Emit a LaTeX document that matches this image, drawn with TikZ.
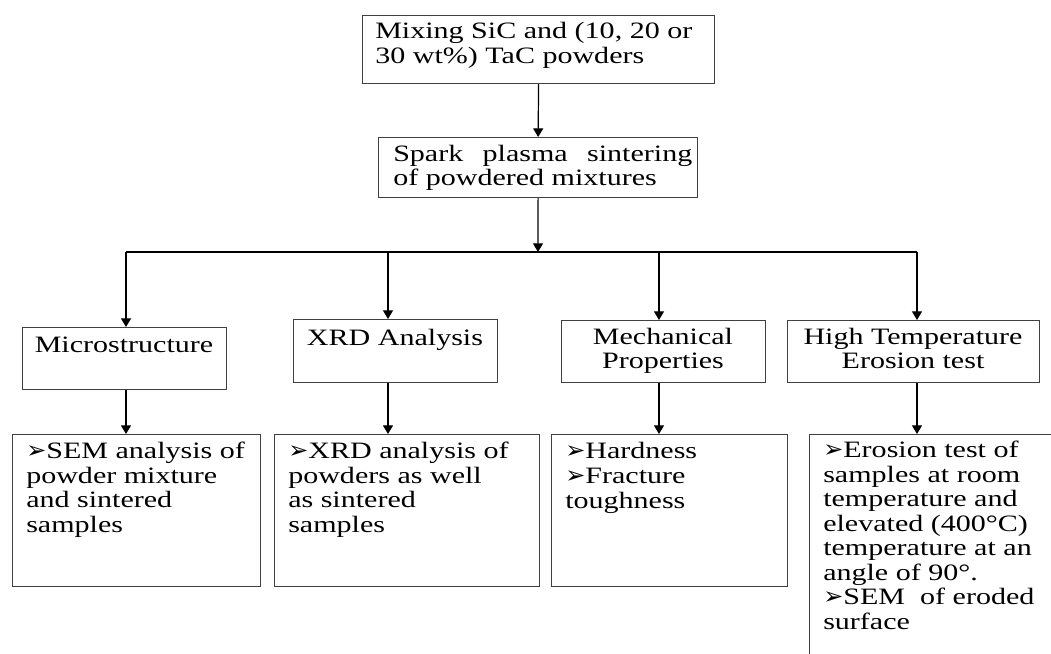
\documentclass[tikz,border=0pt]{standalone}
\usepackage{fontspec}
\setmainfont{Liberation Serif}[FakeStretch=1.28]
\newfontfamily\symf{DejaVu Sans}
\usetikzlibrary{arrows.meta}
\newcommand{\bul}{{\symf\fontsize{18}{15}\selectfont ➢}}
\newcommand{\bx}[5]{\node[box,anchor=north west,minimum width=#4*0.75pt,minimum height=#5*0.75pt] (#1) at (#2,#3) {};}
\tikzset{
  box/.style={draw=black!75,line width=0.9pt,inner sep=0pt,fill=none},
  arr/.style={draw=black,line width=0.9pt,-{Triangle[width=7.5pt,length=6.5pt]}},
  bus/.style={draw=black,line width=0.9pt},
  txt/.style={inner sep=0pt,font=\fontsize{17.6}{18.6}\selectfont,align=left},
  ctxt/.style={inner sep=0pt,font=\fontsize{17.6}{17.6}\selectfont,align=center},
  btxt/.style={inner sep=0pt,font=\fontsize{17.6}{18.4}\selectfont,align=left}
}
\begin{document}
\begin{tikzpicture}[x=0.75pt,y=-0.75pt]
\path[use as bounding box,clip] (0,0) rectangle (1051,654);
\fill[white] (0,0) rectangle (1051,654);
% boxes
\bx{t1}{362}{15}{352}{68}
\bx{t2}{378}{137}{319}{60}
\bx{m1}{22}{327}{204}{62}
\bx{m2}{293}{319}{204}{63}
\bx{m3}{561}{320}{204}{62}
\bx{m4}{787}{320}{252}{62}
\bx{d1}{12}{434}{248}{152}
\bx{d2}{274}{434}{265}{152}
\bx{d3}{551}{434}{236}{152}
\bx{d4}{809}{434}{260}{240}
% texts (base anchor = baseline of the last line)
\node[txt,anchor=base west] (tt1) at (375,63) {Mixing SiC and (10, 20 or\\30 wt\%) TaC powders};
\node[txt,anchor=base west,font=\fontsize{17.6}{17.5}\selectfont] (tt2) at (393,185) {\makebox[224.25pt][s]{Spark plasma sintering}\\of powdered mixtures};
\node[ctxt,anchor=base] (tm1) at (124,352) {Microstructure};
\node[ctxt,anchor=base] (tm2) at (395,345) {XRD Analysis};
\node[ctxt,anchor=base] (tm3) at (663,368) {Mechanical\\Properties};
\node[ctxt,anchor=base] (tm4) at (913,368) {High Temperature\\Erosion test};
\node[btxt,anchor=base west] (td1) at (26,532.5) {\bul SEM analysis of\\powder mixture\\and sintered\\samples};
\node[btxt,anchor=base west] (td2) at (288,532.5) {\bul XRD analysis of\\powders as well\\as sintered\\samples};
\node[btxt,anchor=base west] (td3) at (565,508) {\bul Hardness\\\bul Fracture\\toughness};
\node[btxt,anchor=base west] (td4) at (823,629.5) {\bul Erosion test of\\samples at room\\temperature and\\elevated (400°C)\\temperature at an\\angle of 90°.\\\bul SEM\ \ of eroded\\surface};
% connectors
\coordinate (j0) at (538,252);
\coordinate (j1) at (126,252);
\coordinate (j2) at (388,252);
\coordinate (j3) at (659,252);
\coordinate (j4) at (917,252);
\draw[arr] (t1.south) -- (t2.north);
\draw[arr] (t2.south) -- (j0);
\draw[bus] (j1) -- (j4);
\draw[arr] (j1) -- (j1 |- m1.north);
\draw[arr] (j2) -- (j2 |- m2.north);
\draw[arr] (j3) -- (j3 |- m3.north);
\draw[arr] (j4) -- (j4 |- m4.north);
\draw[arr] (j1 |- m1.south) -- (j1 |- d1.north);
\draw[arr] (j2 |- m2.south) -- (j2 |- d2.north);
\draw[arr] (j3 |- m3.south) -- (j3 |- d3.north);
\draw[arr] (j4 |- m4.south) -- (j4 |- d4.north);
\end{tikzpicture}
\end{document}
